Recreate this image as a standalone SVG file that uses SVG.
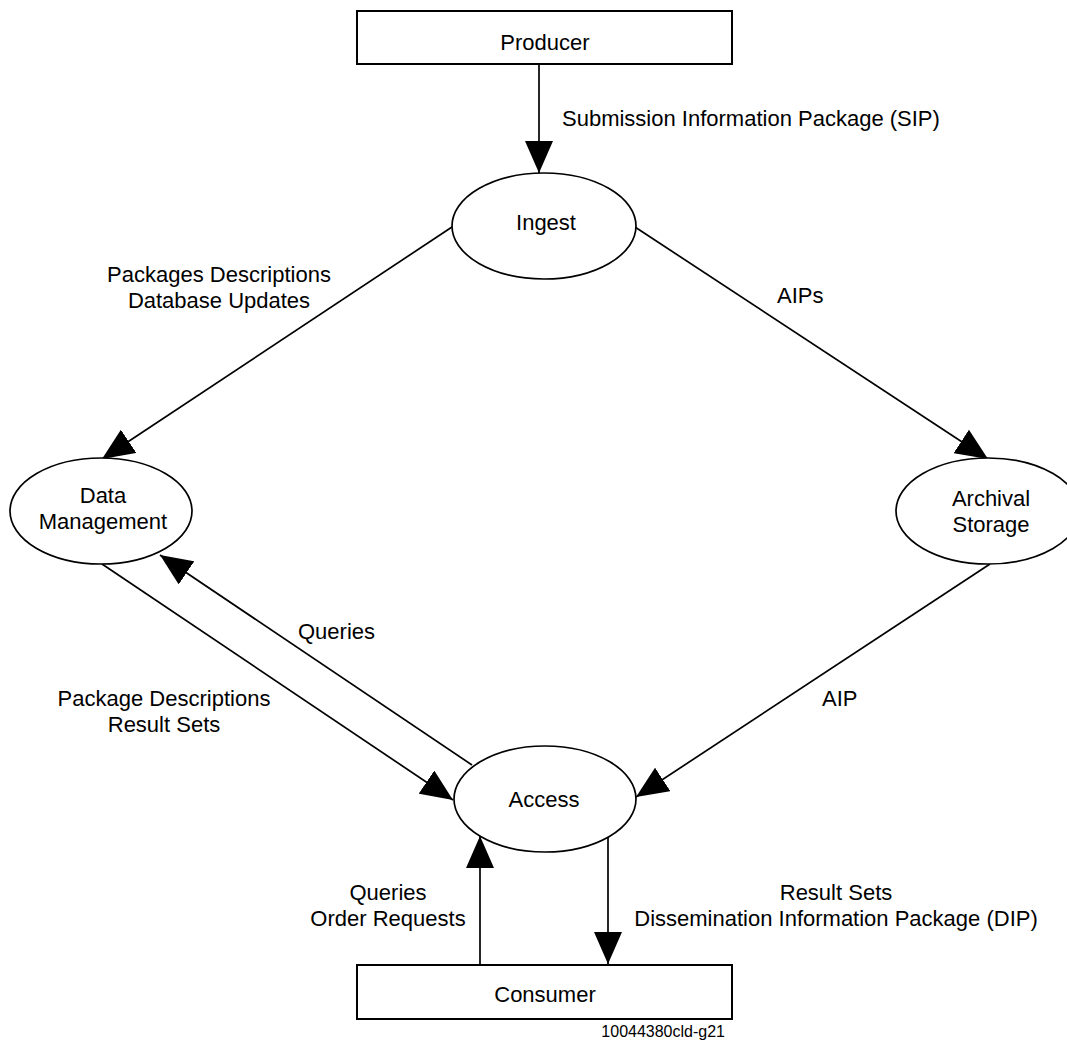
<svg xmlns="http://www.w3.org/2000/svg" width="1067" height="1043" viewBox="0 0 1067 1043">
<style>
text{font-family:"Liberation Sans",Arial,sans-serif;font-size:22px;fill:#000}
.c{text-anchor:middle}
.box{fill:#fff;stroke:#000;stroke-width:2}
.ell{fill:#fff;stroke:#000;stroke-width:1.7}
.con line{stroke:#000;stroke-width:1.7;fill:none;marker-end:url(#ah)}
.small{font-size:16px;text-anchor:end}
</style>
<defs>
<marker id="ah" viewBox="0 0 32 28" refX="32" refY="14" markerWidth="32" markerHeight="28" orient="auto" markerUnits="userSpaceOnUse">
<path d="M0,0 L32,14 L0,28 z" fill="#000"/>
</marker>
</defs>
<rect width="1067" height="1043" fill="#fff"/>
<g id="connectors" class="con">
<line x1="539" y1="64" x2="539" y2="173"/>
<line x1="452" y1="227" x2="102" y2="459"/>
<line x1="635" y1="227" x2="988" y2="459"/>
<line x1="102" y1="564" x2="453" y2="800"/>
<line x1="472" y1="765" x2="160" y2="555"/>
<line x1="990" y1="564" x2="636" y2="797"/>
<line x1="480" y1="965" x2="480" y2="836"/>
<line x1="608" y1="837" x2="608" y2="964"/>
</g>
<g id="producer">
<rect class="box" x="357" y="11" width="375" height="53"/>
<text class="c" x="545" y="50">Producer</text>
</g>
<g id="ingest">
<ellipse class="ell" cx="544" cy="226" rx="92" ry="53"/>
<text class="c" x="546" y="230">Ingest</text>
</g>
<g id="data-management">
<ellipse class="ell" cx="101" cy="511" rx="91" ry="53"/>
<text class="c" x="103" y="503">Data</text>
<text class="c" x="103" y="529">Management</text>
</g>
<g id="archival-storage">
<ellipse class="ell" cx="988" cy="511" rx="92" ry="53"/>
<text class="c" x="991" y="506">Archival</text>
<text class="c" x="991" y="532">Storage</text>
</g>
<g id="access">
<ellipse class="ell" cx="545" cy="799" rx="91" ry="53"/>
<text class="c" x="544" y="807">Access</text>
</g>
<g id="consumer">
<rect class="box" x="357" y="965" width="375" height="54"/>
<text class="c" x="545" y="1002">Consumer</text>
</g>
<g id="labels">
<text x="562" y="126">Submission Information Package (SIP)</text>
<text class="c" x="219" y="282">Packages Descriptions</text>
<text class="c" x="219" y="308">Database Updates</text>
<text x="777" y="303">AIPs</text>
<text x="298" y="639">Queries</text>
<text class="c" x="164" y="706">Package Descriptions</text>
<text class="c" x="164" y="732">Result Sets</text>
<text x="822" y="706">AIP</text>
<text class="c" x="388" y="900">Queries</text>
<text class="c" x="388" y="926">Order Requests</text>
<text class="c" x="836" y="900">Result Sets</text>
<text class="c" x="836" y="926">Dissemination Information Package (DIP)</text>
<text class="small" x="725" y="1037">10044380cld-g21</text>
</g>
</svg>
